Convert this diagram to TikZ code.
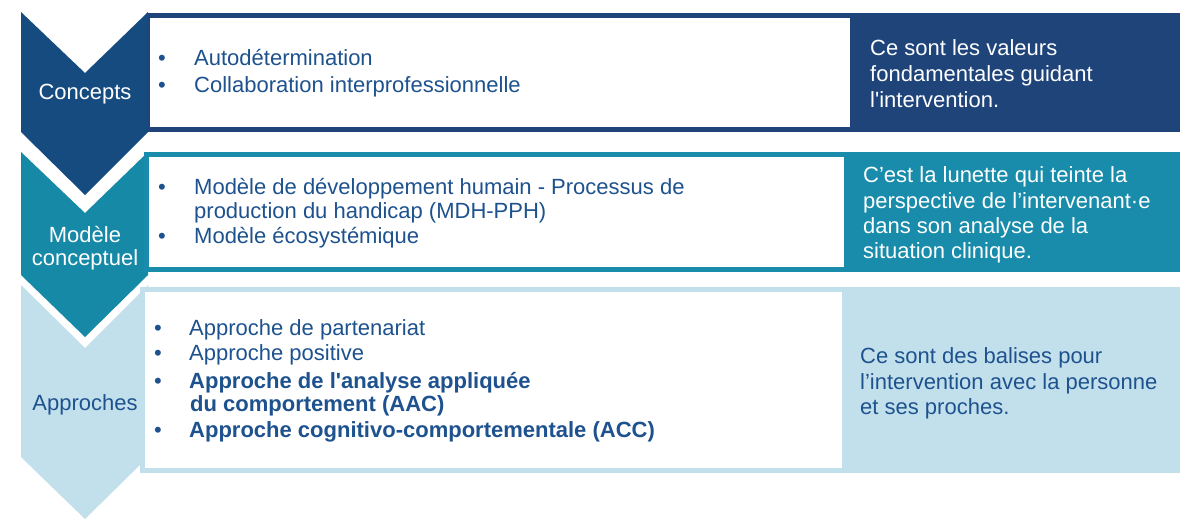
\documentclass[tikz,border=0pt]{standalone}
\usepackage{fontspec}
\setmainfont{Liberation Sans}[Ligatures=TeXOff]
\definecolor{navyA}{RGB}{22,75,128}
\definecolor{navyB}{RGB}{30,68,122}
\definecolor{tealA}{RGB}{22,137,167}
\definecolor{tealB}{RGB}{24,140,170}
\definecolor{pale}{RGB}{194,224,236}
\definecolor{ink}{RGB}{30,82,142}
\begin{document}
\begin{tikzpicture}[x=1pt,y=-1pt,
  txt/.style={inner sep=0pt, anchor=base west, font=\fontsize{22}{26}\selectfont, text=ink},
  bul/.style={inner sep=0pt, anchor=base, font=\fontsize{22}{26}\selectfont, text=ink},
  lbl/.style={inner sep=0pt, anchor=base, font=\fontsize{22}{26}\selectfont},
  bold/.style={font=\fontsize{22}{26}\selectfont\bfseries}]
\useasboundingbox (0,0) rectangle (1200,523);
\fill[white] (0,0) rectangle (1200,523);
% chevrons
\fill[navyA] (21,12) -- (85,73) -- (148,12) -- (148,132) -- (85,195) -- (21,132) -- cycle;
\fill[tealA] (21,152) -- (85,213) -- (148,152) -- (148,275) -- (85,337) -- (21,275) -- cycle;
\fill[pale] (21,285) -- (85,348) -- (148,285) -- (148,457) -- (85,519) -- (21,457) -- cycle;
% boxes
\fill[navyB] (147,13) rectangle (1180,132);
\fill[white] (150,18) rectangle (850,127);
\fill[tealB] (144,152) rectangle (1180,272);
\fill[white] (149,157) rectangle (844,267);
\fill[pale] (140,287) rectangle (1180,473);
\fill[white] (145,292) rectangle (842,468);
% left labels
\node[lbl, text=white] (c1) at (85,99) {Concepts};
\node[lbl, text=white] (c2a) at (85,242) {Modèle};
\node[lbl, text=white] (c2b) at (85,265) {conceptuel};
\node[lbl, text=ink] (c3) at (85,410) {Approches};
% box 1 bullets
\node[bul] (b1a) at (162,65) {•};
\node[txt] (t1a) at (194,65) {Autodétermination};
\node[bul] (b1b) at (162,92) {•};
\node[txt] (t1b) at (194,92) {Collaboration interprofessionnelle};
% box 2 bullets
\node[bul] (b2a) at (162,194) {•};
\node[txt] (t2a) at (194,194) {Modèle de développement humain - Processus de};
\node[txt] (t2b) at (194,218) {production du handicap (MDH-PPH)};
\node[bul] (b2c) at (162,243) {•};
\node[txt] (t2c) at (194,243) {Modèle écosystémique};
% box 3 bullets
\node[bul] (b3a) at (158,335) {•};
\node[txt] (t3a) at (189,335) {Approche de partenariat};
\node[bul] (b3b) at (158,360) {•};
\node[txt] (t3b) at (189,360) {Approche positive};
\node[bul] (b3c) at (158,388) {•};
\node[txt, bold] (t3c) at (189,388) {Approche de l'analyse appliquée};
\node[txt, bold] (t3d) at (190,411) {du comportement (AAC)};
\node[bul] (b3e) at (158,437) {•};
\node[txt, bold] (t3e) at (189,437) {Approche cognitivo-comportementale (ACC)};
% right texts
\node[txt, text=white] (r1a) at (870,55) {Ce sont les valeurs};
\node[txt, text=white] (r1b) at (870,81) {fondamentales guidant};
\node[txt, text=white] (r1c) at (870,107) {l'intervention.};
\node[txt, text=white] (r2a) at (863,182) {C’est la lunette qui teinte la};
\node[txt, text=white] (r2b) at (863,208) {perspective de l’intervenant·e};
\node[txt, text=white] (r2c) at (863,233) {dans son analyse de la};
\node[txt, text=white] (r2d) at (863,258) {situation clinique.};
\node[txt] (r3a) at (860,363) {Ce sont des balises pour};
\node[txt] (r3b) at (860,389) {l’intervention avec la personne};
\node[txt] (r3c) at (860,414) {et ses proches.};
\end{tikzpicture}
\end{document}
